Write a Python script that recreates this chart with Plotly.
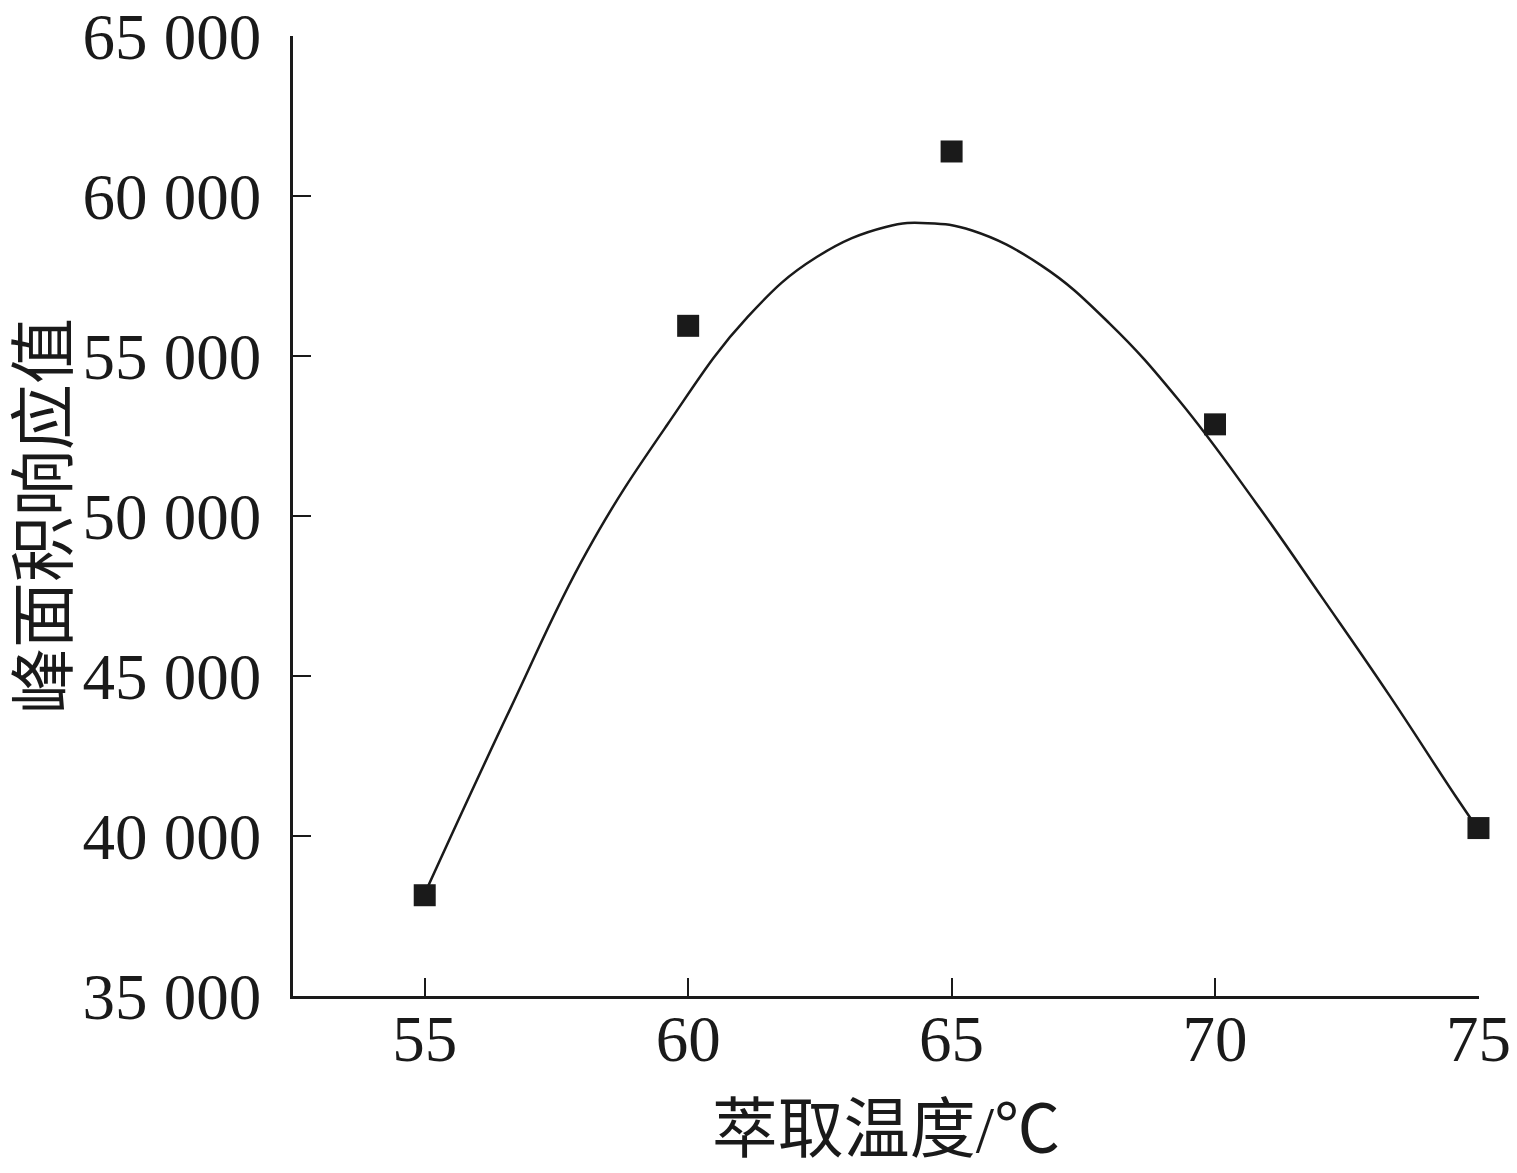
import plotly.graph_objects as go

# Measured points
temp = [55, 60, 65, 70, 75]
area = [38150, 55950, 61400, 52870, 40250]

# Fitted curve
fit_x = [55.0, 56.63, 58.08, 59.60, 61.13, 62.44, 63.75, 64.55, 65.39, 66.70,
         68.00, 69.31, 70.77, 72.03, 73.30, 74.56, 75.0]
fit_y = [38200, 44000, 48900, 52850, 56230, 58100, 59040, 59160, 58930, 57840,
         56020, 53630, 50430, 47460, 44420, 41260, 40200]

x_ticks = [55, 60, 65, 70, 75]
y_ticks = [35000, 40000, 45000, 50000, 55000, 60000, 65000]
y_tick_text = ["35 000", "40 000", "45 000", "50 000", "55 000", "60 000", "65 000"]

x_title = "萃取温度/℃"
y_title = "峰面积响应值"

FONT = "Liberation Serif, Times New Roman, Noto Sans CJK SC, serif"
INK = "#1a1a1a"

fig = go.Figure()
fig.add_trace(go.Scatter(
    x=fit_x, y=fit_y, mode="lines",
    line=dict(color=INK, width=2.5, shape="spline", smoothing=1.2),
    hoverinfo="skip", showlegend=False,
))
fig.add_trace(go.Scatter(
    x=temp, y=area, mode="markers",
    marker=dict(symbol="square", size=22, color=INK, line=dict(width=0)),
    showlegend=False, cliponaxis=False,
))

fig.update_layout(
    width=1517, height=1173,
    margin=dict(l=285, r=46, t=28, b=185),
    paper_bgcolor="white", plot_bgcolor="white",
    font=dict(family=FONT, size=65, color=INK),
    showlegend=False,
)
fig.update_xaxes(
    range=[52.5, 75.01], tickmode="array", tickvals=x_ticks,
    ticks="inside", ticklen=18, tickwidth=2, tickcolor=INK,
    showline=True, linecolor=INK, linewidth=2.5, mirror=False,
    showgrid=False, zeroline=False, automargin=False,
    tickfont=dict(family=FONT, size=65, color=INK),
    ticklabelstandoff=-16, ticklabeloverflow="allow",
    title=dict(text=x_title, font=dict(family=FONT, size=66, color=INK), standoff=33),
)
fig.update_yaxes(
    range=[35000, 65010], tickmode="array", tickvals=y_ticks, ticktext=y_tick_text,
    ticks="inside", ticklen=18, tickwidth=2, tickcolor=INK,
    showline=True, linecolor=INK, linewidth=2.5, mirror=False,
    showgrid=False, zeroline=False, automargin=False,
    tickfont=dict(family=FONT, size=65, color=INK),
    ticklabelstandoff=16, ticklabeloverflow="allow",
    title=dict(text=y_title, font=dict(family=FONT, size=66, color=INK), standoff=19),
)

fig.write_html("out.html")
